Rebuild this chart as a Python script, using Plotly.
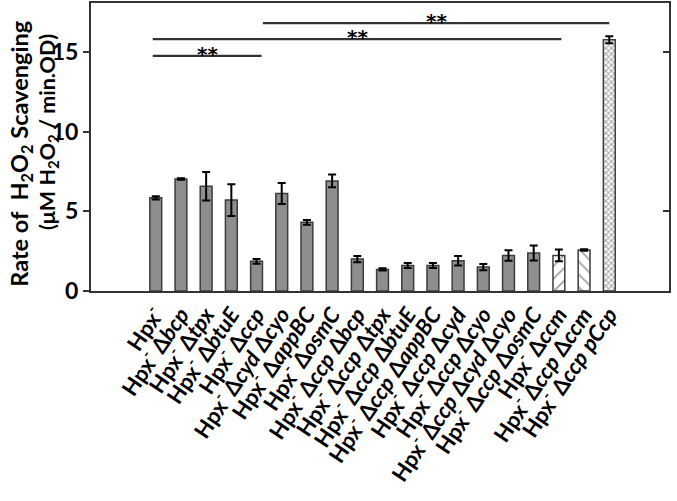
import plotly.graph_objects as go

# strains (tick labels), rates and error bars
strains = [
    "Hpx<sup>-</sup>",
    "Hpx<sup>-</sup> Δ<i>bcp</i>",
    "Hpx<sup>-</sup> Δ<i>tpx</i>",
    "Hpx<sup>-</sup> Δ<i>btuE</i>",
    "Hpx<sup>-</sup> Δ<i>ccp</i>",
    "Hpx<sup>-</sup> Δ<i>cyd</i> Δ<i>cyo</i>",
    "Hpx<sup>-</sup> Δ<i>appBC</i>",
    "Hpx<sup>-</sup> Δ<i>osmC</i>",
    "Hpx<sup>-</sup> Δ<i>ccp</i> Δ<i>bcp</i>",
    "Hpx<sup>-</sup> Δ<i>ccp</i> Δ<i>tpx</i>",
    "Hpx<sup>-</sup> Δ<i>ccp</i> Δ<i>btuE</i>",
    "Hpx<sup>-</sup> Δ<i>ccp</i> Δ<i>appBC</i>",
    "Hpx<sup>-</sup> Δ<i>ccp</i> Δ<i>cyd</i>",
    "Hpx<sup>-</sup> Δ<i>ccp</i> Δ<i>cyo</i>",
    "Hpx<sup>-</sup> Δ<i>ccp</i> Δ<i>cyd</i> Δ<i>cyo</i>",
    "Hpx<sup>-</sup> Δ<i>ccp</i> Δ<i>osmC</i>",
    "Hpx<sup>-</sup> Δ<i>ccm</i>",
    "Hpx<sup>-</sup> Δ<i>ccp</i> Δ<i>ccm</i>",
    "Hpx<sup>-</sup> Δ<i>ccp</i> <i>pCcp</i>",
]
rates = [5.84, 7.02, 6.57, 5.7, 1.86, 6.11, 4.31, 6.9, 2.0, 1.35,
         1.6, 1.6, 1.9, 1.5, 2.23, 2.38, 2.23, 2.57, 15.75]
errors = [0.1, 0.05, 0.9, 1.0, 0.15, 0.66, 0.15, 0.4, 0.2, 0.07,
          0.15, 0.15, 0.3, 0.2, 0.33, 0.47, 0.37, 0.05, 0.22]
patterns = [""] * 16 + ["/", "\\", "x"]

# significance brackets: start / end (bar index), height
sig_start = [-0.12, -0.12, 4.25]
sig_end = [4.2, 16.1, 18.0]
sig_y = [14.75, 15.8, 16.8]
sig_text = ["**", "**", "**"]

FONT = "Lato"
DARK = "#333333"

x = list(range(len(strains)))
fill = ["#8e8e8e" if p == "" else "white" for p in patterns]

fig = go.Figure()
fig.add_trace(go.Bar(
    x=x, y=rates, width=0.47,
    marker=dict(
        color=fill,
        line=dict(color="#3c3c3c", width=1.5),
        pattern=dict(shape=patterns, fgcolor="#1a1a1a", size=[9] * 18 + [4],
                     solidity=[0.2] * 18 + [0.45], fillmode="overlay"),
    ),
    error_y=dict(type="data", array=errors, color="black", thickness=2, width=4),
    showlegend=False,
))

for s, e, h, t in zip(sig_start, sig_end, sig_y, sig_text):
    fig.add_trace(go.Scatter(x=[s, e], y=[h, h], mode="lines",
                             line=dict(color=DARK, width=2.2), showlegend=False,
                             hoverinfo="skip"))
    fig.add_annotation(x=(s + e) / 2, y=h, text="<b>" + t + "</b>", showarrow=False,
                       xanchor="center", yanchor="middle", yshift=2,
                       font=dict(family="DejaVu Sans", size=20, color="black"))

# empty trace so the right-hand tick axis is drawn
fig.add_trace(go.Scatter(x=[None], y=[None], yaxis="y2", showlegend=False))

fig.add_annotation(xref="paper", yref="paper", x=-0.1215, y=0.4757,
                   xanchor="center", yanchor="middle",
                   text="<b>Rate of  H<sub>2</sub>O<sub>2</sub> Scavenging</b>",
                   textangle=-90, showarrow=False, font=dict(size=23.5, color="black"))
fig.add_annotation(xref="paper", yref="paper", x=-0.0745, y=0.552,
                   xanchor="center", yanchor="middle",
                   text="<b>(μM H<sub>2</sub>O<sub>2</sub> / min.OD)</b>",
                   textangle=-90, showarrow=False, font=dict(size=21.5, color="black"))

fig.update_layout(
    width=677, height=501,
    margin=dict(l=91, r=8, t=3, b=210, autoexpand=False),
    plot_bgcolor="white", paper_bgcolor="white",
    font=dict(family=FONT, color="black"),
    xaxis=dict(
        range=[-2.57, 20.37], tickvals=x, ticktext=["<b>" + s + "</b>" for s in strains],
        tickangle=-56, tickfont=dict(size=22), ticks="", automargin=False,
        showline=True, linecolor=DARK, linewidth=2, mirror=True,
        showgrid=False, zeroline=False,
    ),
    yaxis=dict(
        range=[0, 18.06], tickvals=[0, 5, 10, 15], ticktext=["<b>0</b>", "<b>5</b>", "<b>10</b>", "<b>15</b>"],
        tickfont=dict(size=23), ticks="outside", ticklen=6, tickwidth=2, tickcolor=DARK,
        showline=True, linecolor=DARK, linewidth=2, mirror=True, automargin=False,
        showgrid=False, zeroline=False,
    ),
    yaxis2=dict(
        overlaying="y", side="right", range=[0, 18.06], tickvals=[5, 15],
        ticks="inside", ticklen=6, tickwidth=2, tickcolor=DARK, automargin=False,
        showticklabels=False, showline=False, showgrid=False, zeroline=False,
    ),
)

fig.write_html("out.html", config={"displayModeBar": False},
               post_script="document.body.style.margin='0';")
